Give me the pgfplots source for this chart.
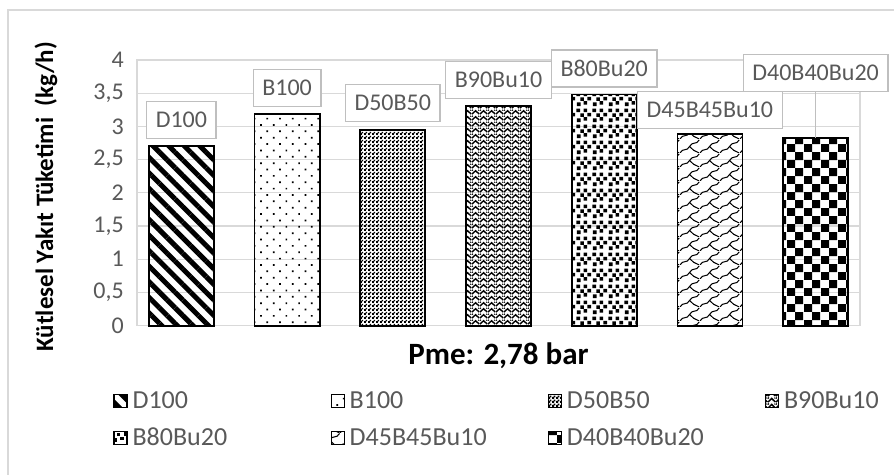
\documentclass[border=0pt]{standalone}
\usepackage{fontspec}
\setmainfont{Carlito}
\usepackage{pgfplots}
\pgfplotsset{compat=1.18}
\usetikzlibrary{patterns.meta}
\definecolor{textgray}{HTML}{595959}
\definecolor{boxgray}{HTML}{BFBFBF}
\definecolor{gridgray}{HTML}{D9D9D9}

\tikzdeclarepattern{name=finecheck, type=uncolored,
  bounding box={(0,0) and (4bp,4bp)}, tile size={(4bp,4bp)},
  code={\fill (0,0) rectangle (2.4bp,2.4bp); \fill (2bp,2bp) rectangle (4bp,4bp);}}
\tikzdeclarepattern{name=zigzag, type=uncolored,
  bounding box={(0,0) and (8bp,6bp)}, tile size={(8bp,6bp)},
  code={\draw[line width=1.6bp] (0,1bp)--(4bp,5bp)--(8bp,1bp); \draw[line width=1.2bp] (0,5bp)--(1bp,6bp) (7bp,6bp)--(8bp,5bp);}}
\tikzdeclarepattern{name=squares, type=uncolored,
  bounding box={(0,0) and (16bp,16bp)}, tile size={(16bp,16bp)},
  code={\fill (1bp,1bp) rectangle ++(3.8bp,3.8bp);
        \fill (8bp,2.5bp) rectangle ++(3.8bp,3.8bp);
        \fill (4.5bp,6.5bp) rectangle ++(3.8bp,3.8bp);
        \fill (12bp,7bp) rectangle ++(3.8bp,3.8bp);
        \fill (0.5bp,11.5bp) rectangle ++(3.8bp,3.8bp);
        \fill (8bp,11.5bp) rectangle ++(3.8bp,3.8bp);}}
\tikzdeclarepattern{name=waves, type=uncolored,
  bounding box={(0,0) and (20bp,14bp)}, tile size={(20bp,14bp)},
  code={\draw[line width=1.1bp] (0,0) .. controls (3bp,6bp) and (7bp,1bp) .. (10bp,7bp) .. controls (13bp,13bp) and (17bp,8bp) .. (20bp,14bp);
        \draw[line width=1.1bp] (10bp,7bp) -- (14bp,3bp) -- (20bp,0bp);}}
\tikzdeclarepattern{name=bigcheck, type=uncolored,
  bounding box={(0,0) and (16.4bp,16.4bp)}, tile size={(16.4bp,16.4bp)},
  code={\fill (0,0) rectangle (8.2bp,8.2bp); \fill (8.2bp,8.2bp) rectangle (16.4bp,16.4bp);}}

\begin{document}
\begin{tikzpicture}[x=1bp,y=1bp]
\useasboundingbox (0,0) rectangle (894,475);
\clip (0,0) rectangle (894,475);
\fill[white] (0,0) rectangle (894,475);
\draw[gridgray, line width=1.5bp] (8,-20) rectangle (920,465);
\begin{axis}[
  at={(137bp,149.3bp)}, anchor=south west,
  scale only axis, width=723bp, height=265.7bp,
  ybar, bar width=65bp, clip=false,
  xmin=-0.42, xmax=6.42, ymin=0, ymax=4,
  xtick=\empty,
  ytick={0,0.5,...,4},
  ymajorgrids, major grid style={gridgray, line width=1.3bp},
  axis line style={gridgray, line width=1.3bp},
  ytick style={draw=none},
  yticklabel style={font=\fontsize{24bp}{28bp}\selectfont, text=textgray, inner sep=0pt, xshift=-13bp},
  /pgf/number format/.cd, use comma, fixed, assume math mode=true, /pgfplots/.cd,
  every axis y label/.style={at={(axis description cs:-0.126,0.485)}, rotate=90, anchor=center},
  every axis x label/.style={at={(axis description cs:0.5,0)}, anchor=center, yshift=-30bp},
  ylabel={\fontsize{25bp}{30bp}\selectfont\bfseries Kütlesel Yakıt Tüketimi\ \ (kg/h)},
  xlabel={\fontsize{31bp}{37bp}\selectfont\bfseries Pme: 2,78 bar},
  legend columns=4,
  legend style={at={(axis description cs:-0.033,-0.24)}, anchor=north west,
    draw=none, fill=none, inner sep=0pt, row sep=14bp,
    font=\fontsize{26bp}{30bp}\selectfont, text=textgray,
    /tikz/every odd column/.append style={column sep=3bp}},
  legend cell align=left,
  legend image code/.code={\draw[#1, line width=1.2bp] (0bp,-6.5bp) rectangle (13bp,6.5bp);},
  every axis plot/.append style={draw=black, line width=1.8bp, bar shift=0pt},
]
\addplot[bar shift=0pt, draw=black, pattern={Lines[angle=-45,distance=11bp,line width=5bp]}] coordinates {(0,2.71)};
\addplot[bar shift=0pt, draw=black, pattern={Dots[angle=45,distance=9bp,radius=1.2bp]}] coordinates {(1,3.19)};
\addplot[bar shift=0pt, draw=black, pattern=finecheck] coordinates {(2,2.95)};
\addplot[bar shift=0pt, draw=black, pattern=zigzag] coordinates {(3,3.31)};
\addplot[bar shift=0pt, draw=black, pattern=squares] coordinates {(4,3.48)};
\addplot[bar shift=0pt, draw=black, pattern=waves] coordinates {(5,2.89)};
\addplot[bar shift=0pt, draw=black, pattern=bigcheck] coordinates {(6,2.82)};
\legend{\makebox[196bp][l]{D100},\makebox[196bp][l]{B100},\makebox[196bp][l]{D50B50},\makebox[196bp][l]{B90Bu10},\makebox[196bp][l]{B80Bu20},\makebox[196bp][l]{D45B45Bu10},\makebox[196bp][l]{D40B40Bu20}}
\draw[boxgray, line width=1.3bp] (axis cs:6,3.52) -- (axis cs:6,2.82);
\tikzset{dl/.style={draw=boxgray, line width=1.3bp, fill=white, text=textgray, font=\fontsize{24bp}{28bp}\selectfont, inner xsep=9bp, minimum height=37bp}}
\node[dl] at (axis cs:0,3.10) {D100};
\node[dl] at (axis cs:1,3.58) {B100};
\node[dl] at (axis cs:2,3.35) {D50B50};
\node[dl] at (axis cs:3,3.70) {B90Bu10};
\node[dl] at (axis cs:4,3.87) {B80Bu20};
\node[dl] at (axis cs:5,3.25) {D45B45Bu10};
\node[dl] at (axis cs:6,3.80) {D40B40Bu20};
\end{axis}
\end{tikzpicture}
\end{document}
